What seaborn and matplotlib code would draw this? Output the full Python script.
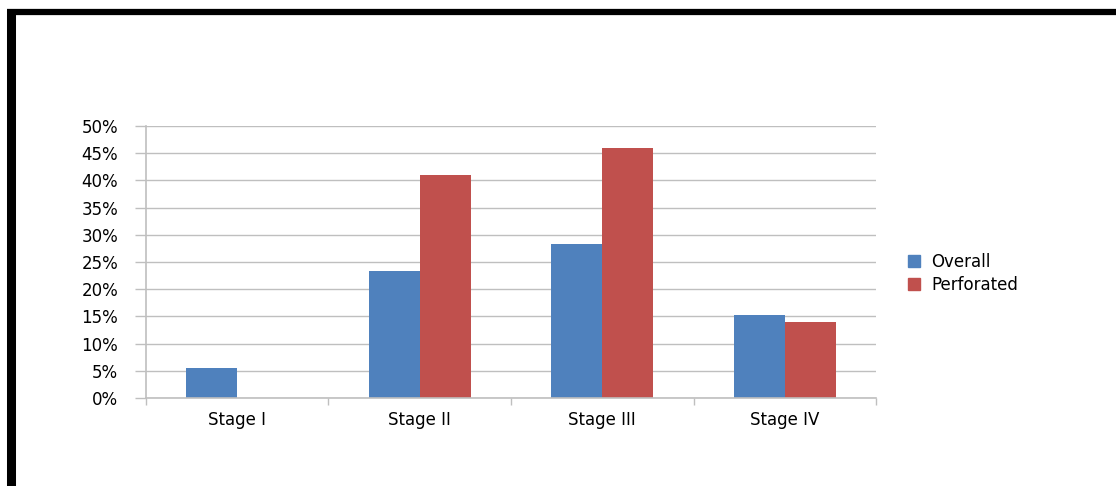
import matplotlib
matplotlib.use("Agg")
import matplotlib.pyplot as plt
from matplotlib.lines import Line2D
from matplotlib.ticker import FixedLocator, PercentFormatter
import seaborn as sns
import pandas as pd

stages = ["Stage I", "Stage II", "Stage III", "Stage IV"]
overall = [5.5, 23.3, 28.3, 15.3]
perforated = [0.0, 41.0, 46.0, 14.0]
series_names = ["Overall", "Perforated"]
y_ticks = [0, 5, 10, 15, 20, 25, 30, 35, 40, 45, 50]

df = pd.DataFrame({
    "Stage": stages * 2,
    "Series": [series_names[0]] * len(stages) + [series_names[1]] * len(stages),
    "Value": overall + perforated,
})

sns.set_theme(style="white")
plt.rcParams["font.family"] = ["DejaVu Sans"]

fig = plt.figure(figsize=(11.16, 4.86), dpi=100)
ax = fig.add_axes([0.1308, 0.181, 0.6542, 0.5597])

palette = {"Overall": "#4F81BD", "Perforated": "#C0504D"}
sns.barplot(data=df, x="Stage", y="Value", hue="Series", order=stages,
            hue_order=series_names, palette=palette, width=0.56, gap=0,
            saturation=1, ax=ax, legend=False, edgecolor="none")

grid_c = "#BFBFBF"
text_c = "#000000"
fs = 12
ax.set_ylim(0, 50)
ax.set_xlim(-0.5, len(stages) - 0.5)
ax.yaxis.set_major_locator(FixedLocator(y_ticks))
ax.yaxis.set_major_formatter(PercentFormatter(decimals=0))
ax.yaxis.grid(True, color=grid_c, linewidth=1.0)
ax.set_axisbelow(True)
ax.tick_params(axis="y", which="major", length=8, width=1.0, color=grid_c,
               labelsize=fs, pad=12, left=True, labelcolor=text_c)
ax.tick_params(axis="x", which="major", length=0, labelsize=fs, pad=9,
               labelcolor=text_c)
ax.xaxis.set_minor_locator(FixedLocator([i - 0.5 for i in range(len(stages) + 1)]))
ax.tick_params(axis="x", which="minor", length=5, width=1.0, color=grid_c,
               bottom=True)
ax.set_xlabel("")
ax.set_ylabel("")
for side in ["top", "right"]:
    ax.spines[side].set_visible(False)
for side in ["left", "bottom"]:
    ax.spines[side].set_color(grid_c)
    ax.spines[side].set_linewidth(1.2)

handles = [Line2D([0], [0], marker="s", linestyle="none", markersize=8,
                  markerfacecolor=palette[n], markeredgecolor=palette[n])
           for n in series_names]
leg = fig.legend(handles, series_names, loc="upper left",
                 bbox_to_anchor=(0.8, 0.51), bbox_transform=fig.transFigure,
                 frameon=False, fontsize=fs, handlelength=0.8,
                 handletextpad=0.6, labelspacing=0.3)
for t in leg.get_texts():
    t.set_color(text_c)

# Black frame edges along the top and left of the figure
W, H = 1116, 486
fig.add_artist(Line2D([7 / W, 1.0], [1 - 12.5 / H, 1 - 12.5 / H],
                      transform=fig.transFigure, color="black", linewidth=4.5,
                      solid_capstyle="butt"))
fig.add_artist(Line2D([11 / W, 11 / W], [0.0, 1 - 10 / H],
                      transform=fig.transFigure, color="black", linewidth=6.5,
                      solid_capstyle="butt"))

fig.savefig("out.png", dpi=100, facecolor="white")
